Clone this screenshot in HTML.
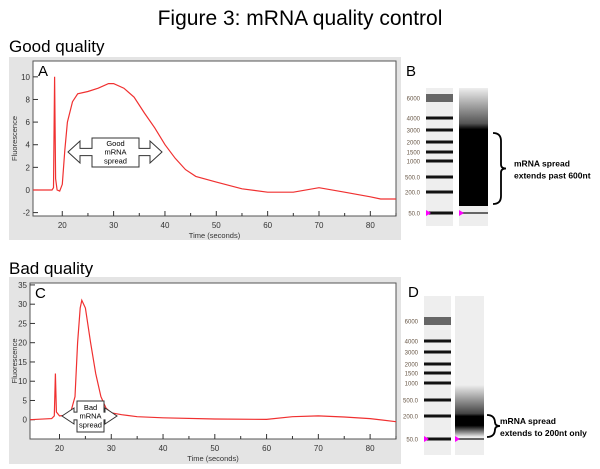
<!DOCTYPE html>
<html><head><meta charset="utf-8"><style>
body{margin:0;background:#fff;width:600px;height:464px;overflow:hidden;font-family:"Liberation Sans",sans-serif}
</style></head><body>
<svg id="s" width="600" height="464" xmlns="http://www.w3.org/2000/svg" font-family="Liberation Sans, sans-serif">
<defs>
<linearGradient id="gB" x1="0" y1="0" x2="0" y2="1"><stop offset="0" stop-color="#eee"/><stop offset="0.3" stop-color="#555"/><stop offset="0.35" stop-color="#000"/><stop offset="1" stop-color="#000"/></linearGradient>
<linearGradient id="gD" x1="0" y1="0" x2="0" y2="1"><stop offset="0" stop-color="#eee"/><stop offset="0.55" stop-color="#444"/><stop offset="0.6" stop-color="#000"/><stop offset="0.78" stop-color="#000"/><stop offset="1" stop-color="#eee"/></linearGradient>
</defs>
<text x="300" y="25" font-size="21" text-anchor="middle">Figure 3: mRNA quality control</text>
<text x="9" y="52" font-size="17">Good quality</text>
<text x="9" y="274" font-size="17">Bad quality</text>
<g id="g"></g>
</svg>
<script>
const timeA=[14.3,18,18.3,18.5,18.7,19,19.5,20,20.5,21,22,23,25,27,29,30,32,34,36,38,40,42,44,46,50,55,60,65,70,75,80,82,85];
const fluorA=[0,0,0.2,10,1,0,-0.1,0.5,3.5,6,7.8,8.5,8.7,9,9.4,9.4,9,8.2,6.8,5.5,4,2.8,1.8,1.2,0.7,0.1,-0.2,-0.2,0.2,-0.2,-0.6,-0.8,-0.8];
const timeC=[14.3,18.5,19,19.2,19.4,20,22,23,23.5,24,24.3,25,26,27,28,29,30,32,35,40,50,60,65,70,75,80,85];
const fluorC=[0,0.3,1,12,2,1,1.2,6,20,29,31,29,20,12,6,3,1.8,1.3,0.8,0.5,0.2,0.1,0.8,1,0.7,0.3,-0.5];
const xTicks=[20,30,40,50,60,70,80];
const yTicksA=[-2,0,2,4,6,8,10];
const yTicksC=[0,5,10,15,20,25,30,35];
const ladderLabels=["6000","4000","3000","2000","1500","1000","500.0","200.0","50.0"];
const g=document.getElementById('g');const NS="http://www.w3.org/2000/svg";
function el(t,a,p){const e=document.createElementNS(NS,t);for(const k in a)e.setAttribute(k,a[k]);(p||g).appendChild(e);return e;}
function panel(o){
 const box=el('rect',{x:o.bx,y:o.by,width:392,height:o.bh,fill:'#e4e4e4'});
 
 
 el('rect',{x:o.l,y:o.t,width:o.r-o.l,height:o.b-o.t,fill:'#fff',stroke:'#555','stroke-width':1});
 const X=v=>o.l+(v-14.3)/(85-14.3)*(o.r-o.l);
 const Y=v=>o.b-(v-o.ymin)/(o.ymax-o.ymin)*(o.b-o.t);
 xTicks.forEach(v=>{el('line',{x1:X(v),x2:X(v),y1:o.b,y2:o.b-5,stroke:'#333'});
  const t=el('text',{x:X(v),y:o.b+12,'font-size':8,'text-anchor':'middle',fill:'#333'});t.textContent=v;
  
  el('line',{x1:X(v+5),x2:X(v+5),y1:o.b,y2:o.b-3,stroke:'#333'});});
 o.yt.forEach(v=>{el('line',{x1:o.l,x2:o.l+5,y1:Y(v),y2:Y(v),stroke:'#333'});
  const t=el('text',{x:o.l-3,y:Y(v)+3,'font-size':8,'text-anchor':'end',fill:'#333'});t.textContent=v;
  });
 const xt=el('text',{x:(o.l+o.r)/2,y:o.b+22,'font-size':7.5,'text-anchor':'middle',fill:'#333'});xt.textContent='Time (seconds)';
 
 const yt=el('text',{x:0,y:0,'font-size':7.5,'text-anchor':'middle',fill:'#333',transform:`translate(${o.bx+8},${(o.t+o.b)/2}) rotate(-90)`});yt.textContent='Fluorescence';
 
 const lt=el('text',{x:o.l+5,y:o.t+15,'font-size':15});lt.textContent=o.letter;
 
 const d=o.tx.map((v,i)=>(i?'L':'M')+X(v).toFixed(1)+','+Y(o.fy[i]).toFixed(1)).join('');
 const p=el('path',{d:d,fill:'none',stroke:'#f03030','stroke-width':1.2});
 
 return {X,Y};
}
function arrowBox(x1,x2,bx1,bx2,by1,by2,cy,ah,lines,fs,name){
 const hw=(by2-by1)/2*0.5;
 const d=`M${x1},${cy} L${x1+12},${cy-ah} L${x1+12},${cy-hw/2} L${bx1},${cy-hw/2} L${bx1},${by1} L${bx2},${by1} L${bx2},${cy-hw/2} L${x2-12},${cy-hw/2} L${x2-12},${cy-ah} L${x2},${cy} L${x2-12},${cy+ah} L${x2-12},${cy+hw/2} L${bx2},${cy+hw/2} L${bx2},${by2} L${bx1},${by2} L${bx1},${cy+hw/2} L${x1+12},${cy+hw/2} L${x1+12},${cy+ah} Z`;
 const p=el('path',{d:d,fill:'#fff',stroke:'#333','stroke-width':1});
 
 lines.forEach((s,i)=>{const t=el('text',{x:(bx1+bx2)/2,y:cy+(i-(lines.length-1)/2)*fs*1.15+fs*0.35,'font-size':fs,'text-anchor':'middle'});t.textContent=s;
  });
}
panel({name:'good',bx:9,by:57,bh:183,l:33,r:396,t:61,b:216,ymin:-2.3,ymax:11.4,yt:yTicksA,tx:timeA,fy:fluorA,letter:'A'});
arrowBox(68,162,92,139,138,167,152,11,['Good','mRNA','spread'],7.5,'good-spread-annotation');
panel({name:'bad',bx:9,by:277,bh:187,l:30,r:396,t:283,b:439,ymin:-5,ymax:35.5,yt:yTicksC,tx:timeC,fy:fluorC,letter:'C'});
arrowBox(62,117,77,104,401,432,416,8,['Bad','mRNA','spread'],7.5,'bad-spread-annotation');
function gel(o){
 const lt=el('text',{x:o.lx,y:o.ly,'font-size':15});lt.textContent=o.letter;
 
 const a=el('rect',{x:o.x1,y:o.top,width:27,height:o.bot-o.top,fill:'#eee'});
 
 const b=el('rect',{x:o.x2,y:o.top,width:29,height:o.bot-o.top,fill:'#eee'});
 
 o.bands.forEach((y,i)=>{el('rect',{x:o.x1,y:y-(i==0?4:1.5),width:27,height:i==0?8:3,fill:i==0?'#666':'#111'});
  const t=el('text',{x:o.x1-6,y:y+2.5,'font-size':6,'text-anchor':'end',fill:'#654'});t.textContent=ladderLabels[i];
  });
 el('rect',{x:o.x2,y:o.sy1,width:29,height:o.sy2-o.sy1,fill:o.grad});
 el('rect',{x:o.x2,y:o.bands[8]-1,width:29,height:2,fill:'#666'});
 el('path',{d:`M${o.x1},${o.bands[8]-3}l5,3l-5,3z M${o.x2},${o.bands[8]-3}l5,3l-5,3z`,fill:'#f0f'});
 const by=(o.b1+o.b2)/2;
 const br=el('path',{d:`M${o.brx},${o.b1} q8,0 8,8 L${o.brx+8},${by-4} q0,4 5,4 q-5,0 -5,4 L${o.brx+8},${o.b2-8} q0,8 -8,8`,fill:'none',stroke:'#000','stroke-width':1.8});
 
 o.txt.forEach((s,i)=>{const t=el('text',{x:o.tx,y:by-2+i*12,'font-size':8.5,'font-weight':'bold'});t.textContent=s;
  });
}
gel({letter:'B',lx:406,ly:76,x1:426,x2:459,top:88,bot:226,bands:[98,118,130,142,152,161,177,192,213],sy1:88,sy2:206,grad:'url(#gB)',brx:493,b1:133,b2:204,tx:514,txt:['mRNA spread','extends past 600nt']});
gel({letter:'D',lx:408,ly:297,x1:424,x2:455,top:296,bot:455,bands:[321,341,352,364,373,383,400,416,439],sy1:385,sy2:437,grad:'url(#gD)',brx:487,b1:415,b2:437,tx:500,txt:['mRNA spread','extends to 200nt only']});
</script>
</body></html>
